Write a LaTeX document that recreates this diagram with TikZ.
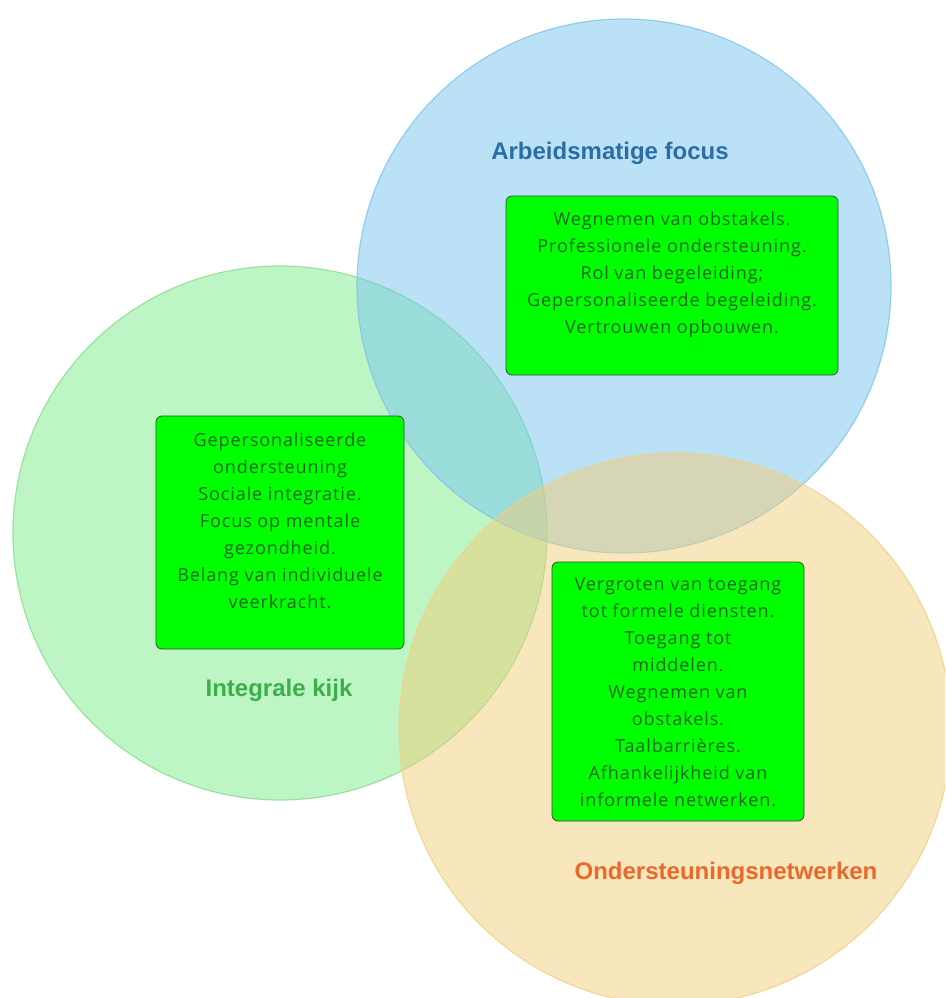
\documentclass[tikz,border=0pt]{standalone}
\usepackage{fontspec}
\setmainfont{Open Sans}[LetterSpace=5]
\newfontfamily\labelfont{Liberation Sans}
\definecolor{bluebase}{RGB}{120,195,240}
\definecolor{blueline}{RGB}{130,195,238}
\definecolor{greenbase}{RGB}{125,235,137}
\definecolor{greenline}{RGB}{135,222,145}
\definecolor{orangebase}{RGB}{241,205,121}
\definecolor{orangeline}{RGB}{238,210,135}
\definecolor{boxfill}{RGB}{0,255,0}
\definecolor{boxline}{RGB}{50,80,50}
\definecolor{boxtextcol}{RGB}{30,100,30}
\definecolor{bluelabel}{RGB}{42,110,166}
\definecolor{greenlabel}{RGB}{60,175,75}
\definecolor{orangelabel}{RGB}{232,105,42}
\tikzset{
  setcircle/.style={circle, inner sep=0pt, minimum size=#1, line width=1.2pt},
  infobox/.style={draw=boxline, fill=boxfill, rounded corners=6pt, line width=0.8pt, inner sep=0pt},
  infotext/.style={text=boxtextcol, align=center, font=\fontsize{18}{27}\selectfont, inner sep=0pt, anchor=north},
  setlabel/.style={font=\labelfont\bfseries\fontsize{24}{28}\selectfont, inner sep=0pt},
}
\begin{document}
\begin{tikzpicture}[x=1pt,y=-1pt]
\useasboundingbox (0,0) rectangle (945,998);
\begin{scope}
\clip (0,0) rectangle (945,998);
\node[setcircle=534pt, draw=greenline, fill=greenbase, fill opacity=0.5, draw opacity=0.8] (cg) at (280,533) {};
\node[setcircle=534pt, draw=blueline, fill=bluebase, fill opacity=0.5, draw opacity=0.8] (cb) at (624,286) {};
\node[setcircle=552pt, draw=orangeline, fill=orangebase, fill opacity=0.5, draw opacity=0.8] (co) at (675,729) {};
\end{scope}
\node[setlabel, text=bluelabel] (lb) at (610,153) {Arbeidsmatige focus};
\node[setlabel, text=greenlabel] (lg) at (279,690) {Integrale kijk};
\node[setlabel, text=orangelabel] (lo) at (726,873) {Ondersteuningsnetwerken};
\node[infobox, minimum width=332pt, minimum height=179pt] (bb) at (672,285.5) {};
\node[infotext] (tb) at ([yshift=-16pt]bb.north) {Wegnemen van obstakels.\\Professionele ondersteuning.\\Rol van begeleiding;\\Gepersonaliseerde begeleiding.\\Vertrouwen opbouwen.};
\node[infobox, minimum width=248pt, minimum height=233pt] (bg) at (280,532.5) {};
\node[infotext] (tg) at ([yshift=-17pt]bg.north) {Gepersonaliseerde\\ondersteuning\\Sociale integratie.\\Focus op mentale\\gezondheid.\\Belang van individuele\\veerkracht.};
\node[infobox, minimum width=252pt, minimum height=259pt] (bo) at (678,691.5) {};
\node[infotext] (to) at ([yshift=-16pt]bo.north) {Vergroten van toegang\\tot formele diensten.\\Toegang tot\\middelen.\\Wegnemen van\\obstakels.\\Taalbarrières.\\Afhankelijkheid van\\informele netwerken.};
\end{tikzpicture}
\end{document}
